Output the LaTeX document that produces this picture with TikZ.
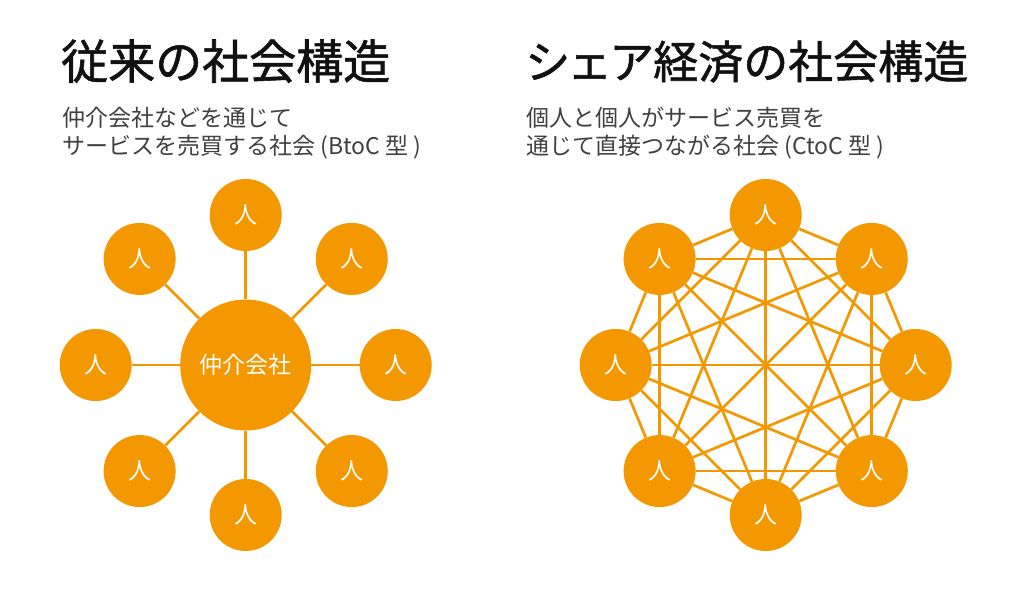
\documentclass[tikz,border=0pt]{standalone}
\usepackage{fontspec}
\setmainfont{Noto Sans CJK JP}
\newfontfamily\titlefont{Noto Sans CJK JP}[FakeBold=1.2]
\definecolor{orng}{HTML}{F39800}
\definecolor{titlegray}{HTML}{111111}
\definecolor{subgray}{HTML}{404040}
\tikzset{
  person/.style={circle, fill=orng, minimum size=72pt, inner sep=0pt,
    text=white, font=\fontsize{23}{23}\selectfont},
  hub/.style={circle, fill=orng, minimum size=131pt, inner sep=0pt,
    text=white, font=\fontsize{23}{23}\selectfont},
  link/.style={draw=orng, line width=2.7pt},
  titletext/.style={anchor=base west, inner sep=0pt, text=titlegray},
  subtext/.style={anchor=base west, inner sep=0pt, text=subgray, align=left,
    font=\fontsize{23}{28}\selectfont},
}
\begin{document}
\begin{tikzpicture}[x=1pt,y=-1pt]
\useasboundingbox[fill=white] (0,0) rectangle (1024,593);
% titles
\node[titletext, font=\titlefont\fontsize{47}{47}\selectfont] (t1) at (61,79) {従来の社会構造};
\node[titletext, font=\titlefont\fontsize{45}{45}\selectfont] (t2) at (525,78.5) {シ\kern-3ptェ\kern-3ptア\kern-1pt 経済の社会構造};
\node[subtext] (s1a) at (62,127) {仲介会社などを通じて};
\node[subtext] (s1b) at (62,155) {サービスを売買する社会 (BtoC 型 )};
\node[subtext] (s2a) at (526,127) {個人と個人がサービス売買を};
\node[subtext] (s2b) at (526,155) {通じて直接つながる社会 (CtoC 型 )};
% left diagram
\node[hub] (c) at (245.7,365) {仲介会社};
\foreach \i in {0,...,7}{
  \node[person] (l\i) at ({245.7+150*cos(90-45*\i)},{365-150*sin(90-45*\i)}) {人};
  \draw[link] (c) -- (l\i);
}
% right diagram
\foreach \i in {0,...,7}{
  \node[person] (r\i) at ({765.7+150*cos(90-45*\i)},{365-150*sin(90-45*\i)}) {人};
}
\foreach \i in {0,...,6}{
  \pgfmathtruncatemacro{\s}{\i+1}
  \foreach \j in {\s,...,7}{
    \draw[link] (r\i) -- (r\j);
  }
}
\end{tikzpicture}
\end{document}
